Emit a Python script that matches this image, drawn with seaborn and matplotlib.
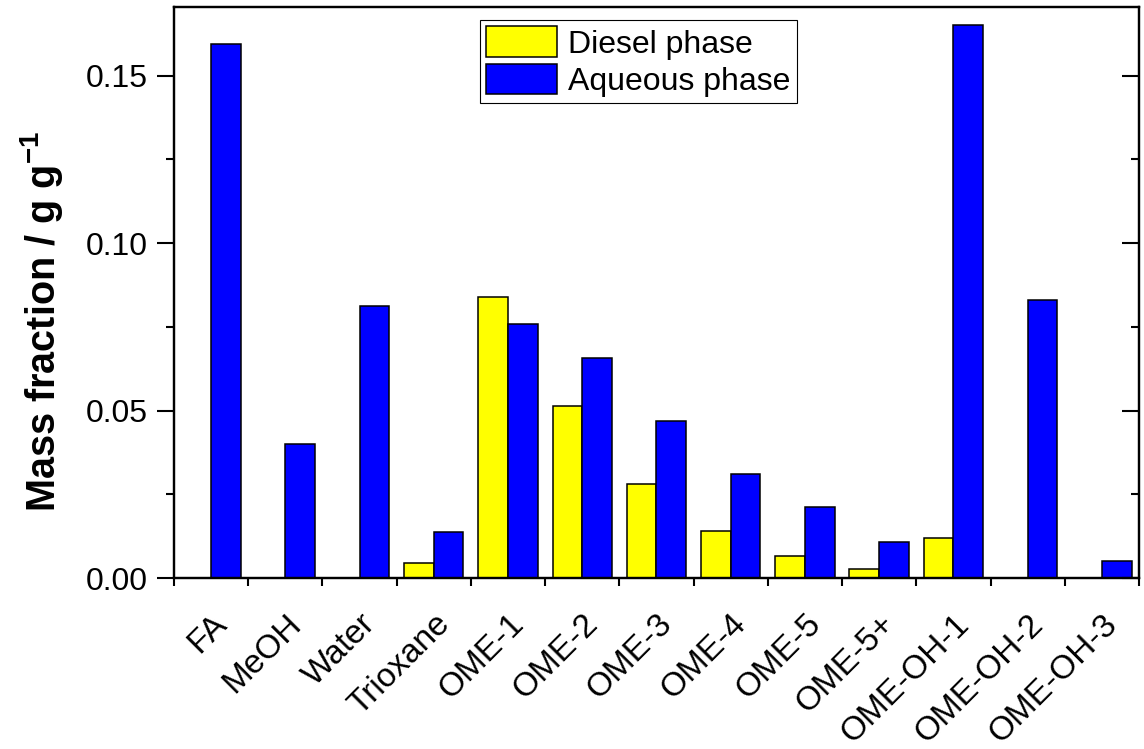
import numpy as np
import pandas as pd
import matplotlib
matplotlib.use('Agg')
import matplotlib.pyplot as plt
import matplotlib.ticker as ticker
import seaborn as sns

# data
components = ['FA', 'MeOH', 'Water', 'Trioxane', 'OME-1', 'OME-2', 'OME-3',
              'OME-4', 'OME-5', 'OME-5+', 'OME-OH-1', 'OME-OH-2', 'OME-OH-3']
diesel = [0.0, 0.0, 0.0, 0.0046, 0.0838, 0.0513, 0.0282, 0.0140, 0.0065,
          0.0027, 0.0119, 0.0, 0.0]
aqueous = [0.1593, 0.0401, 0.0811, 0.0137, 0.0759, 0.0657, 0.0468, 0.0310,
           0.0212, 0.0107, 0.1650, 0.0829, 0.0051]
phases = ['Diesel phase', 'Aqueous phase']

df = pd.DataFrame({
    'component': components * 2,
    'phase': [phases[0]] * len(components) + [phases[1]] * len(components),
    'mass_fraction': diesel + aqueous,
})

sns.set_style('ticks')
plt.rcParams['font.family'] = ['Liberation Sans', 'DejaVu Sans']
plt.rcParams['mathtext.fontset'] = 'custom'
plt.rcParams['mathtext.rm'] = 'Liberation Sans'
plt.rcParams['mathtext.bf'] = 'Liberation Sans:bold'
for k in ['text.color', 'axes.labelcolor', 'xtick.color', 'ytick.color',
          'axes.edgecolor']:
    plt.rcParams[k] = 'black'

fig = plt.figure(figsize=(11.44, 7.49), dpi=100)
ax = fig.add_axes([0.1521, 0.2283, 0.8435, 0.7624])

sns.barplot(data=df, x='component', y='mass_fraction', hue='phase',
            order=components, hue_order=phases,
            palette=['#FFFF00', '#0000FF'], width=0.8,
            edgecolor='black', linewidth=1.1, saturation=1, ax=ax)

ax.set_xlim(-0.5, len(components) - 0.5)
ax.set_ylim(0, 0.1705)

# x axis: labels at centres, ticks at the boundaries
ax.set_xticks(np.arange(len(components)))
ax.set_xticklabels(components, rotation=45, ha='right', rotation_mode='anchor',
                   fontsize=24)
ax.set_xticks(np.arange(-0.5, len(components)), minor=True)
ax.tick_params(axis='x', which='major', length=0, pad=22)
ax.tick_params(axis='x', which='minor', length=6, width=1.5, direction='out')
ax.set_xlabel('')

# y axis
ax.yaxis.set_major_locator(ticker.MultipleLocator(0.05))
ax.yaxis.set_minor_locator(ticker.MultipleLocator(0.025))
ax.yaxis.set_major_formatter(ticker.FormatStrFormatter('%.2f'))
ax.tick_params(axis='y', which='major', length=12, width=1.5, direction='out',
               labelsize=23, pad=7)
ax.tick_params(axis='y', which='minor', length=6, width=1.5, direction='out')
ax.set_ylabel('Mass fraction / g g$^{\\mathbf{-1}}$', fontsize=28.5,
              fontweight='bold')
ax.yaxis.set_label_coords(-0.113, 0.45)

# right side ticks point inward
ax2 = ax.twinx()
ax2.set_ylim(ax.get_ylim())
ax2.yaxis.set_major_locator(ticker.MultipleLocator(0.05))
ax2.yaxis.set_minor_locator(ticker.MultipleLocator(0.025))
ax2.tick_params(axis='y', which='major', length=12, width=1.5, direction='in',
                labelright=False)
ax2.tick_params(axis='y', which='minor', length=6, width=1.5, direction='in')

for a in (ax, ax2):
    for s in a.spines.values():
        s.set_linewidth(1.6)
        s.set_color('black')

leg = ax.legend(loc='upper left', bbox_to_anchor=(0.317, 0.977), fontsize=23,
                frameon=True, fancybox=False, framealpha=1, edgecolor='black',
                handlelength=2.2, handleheight=1.1, labelspacing=0.12,
                handletextpad=0.35, borderpad=0.2, borderaxespad=0)
leg.get_frame().set_linewidth(0.8)

plt.savefig('out.png', dpi=100)
